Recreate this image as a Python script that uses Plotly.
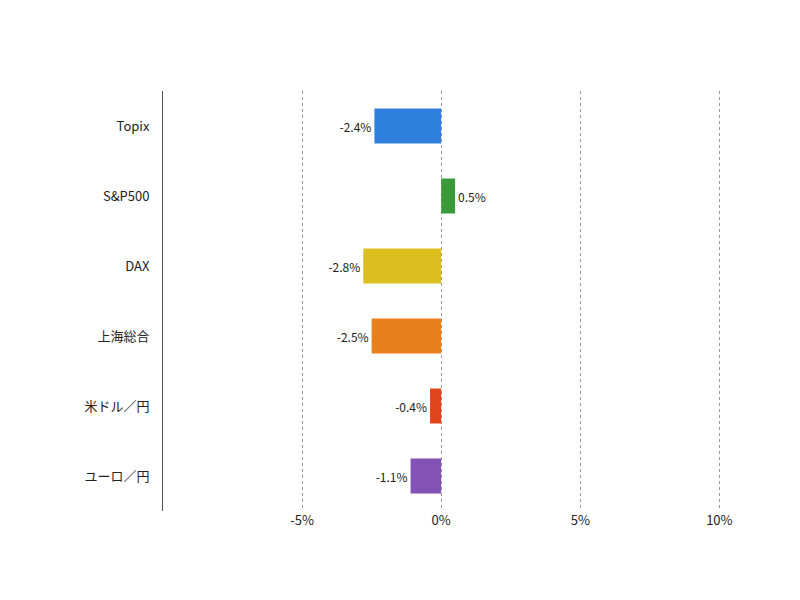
import plotly.graph_objects as go

# カテゴリと騰落率(%)
categories = ["Topix", "S&P500", "DAX", "上海総合", "米ドル／円", "ユーロ／円"]
values = [-2.4, 0.5, -2.8, -2.5, -0.4, -1.1]
colors = ["#2f80dc", "#3a9a3a", "#dcbf1e", "#e8801c", "#e0441a", "#8352b4"]
tick_vals = [-5, 0, 5, 10]
tick_text = ["-5%", "0%", "5%", "10%"]

fig = go.Figure(go.Bar(
    y=categories, x=values, orientation="h",
    marker=dict(color=colors, line=dict(width=0)),
    width=0.5,
    text=[f"{v:.1f}%" for v in values],
    textposition="outside", cliponaxis=False,
    textfont=dict(size=12, color="#222"),
))

fig.update_layout(
    width=800, height=600,
    paper_bgcolor="white", plot_bgcolor="white",
    margin=dict(l=155, r=33, t=83, b=97),
    font=dict(family="Noto Sans CJK JP, Noto Sans, sans-serif", size=13, color="#222"),
    showlegend=False,
    xaxis=dict(range=[-10, 12], tickvals=tick_vals, ticktext=tick_text,
               showgrid=True, gridcolor="#999", griddash="dot", gridwidth=1,
               zeroline=False, showline=False, ticks=""),
    yaxis=dict(autorange="reversed", showline=True, linecolor="#555", linewidth=1,
               showgrid=False, ticks="", ticklabelstandoff=10),
)

fig.write_html("out.html")
